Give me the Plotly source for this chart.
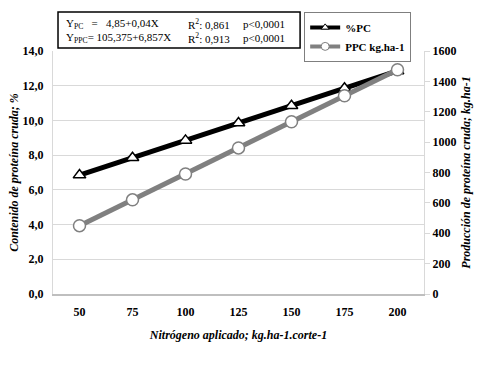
import plotly.graph_objects as go

nitrogen = [50, 75, 100, 125, 150, 175, 200]
pc_percent = [6.85, 7.85, 8.85, 9.85, 10.85, 11.85, 12.85]
ppc_kg = [450, 620, 790, 962, 1134, 1305, 1476]
x_ticks = [50, 75, 100, 125, 150, 175, 200]

FONT = "Liberation Serif, Times New Roman, serif"

fig = go.Figure()
fig.add_trace(go.Scatter(
    x=nitrogen, y=pc_percent, name="%PC", mode="lines+markers",
    line=dict(color="black", width=5),
    marker=dict(symbol="triangle-up", size=11, color="white",
                line=dict(color="black", width=1.5)),
    yaxis="y", showlegend=False))
fig.add_trace(go.Scatter(
    x=nitrogen, y=ppc_kg, name="PPC kg.ha-1", mode="lines+markers",
    line=dict(color="#808080", width=5),
    marker=dict(symbol="circle", size=12, color="white",
                line=dict(color="#808080", width=1.5)),
    yaxis="y2", showlegend=False))
# legend entries (smaller sample markers, as in the reference legend)
fig.add_trace(go.Scatter(
    x=[None], y=[None], name="<b>%PC</b>", mode="lines+markers",
    line=dict(color="black", width=4),
    marker=dict(symbol="triangle-up", size=7, color="white",
                line=dict(color="black", width=1))))
fig.add_trace(go.Scatter(
    x=[None], y=[None], name="<b>PPC kg.ha-1</b>", mode="lines+markers",
    line=dict(color="#808080", width=4),
    marker=dict(symbol="circle", size=8, color="white",
                line=dict(color="#808080", width=1))))

fig.update_layout(
    width=488, height=369,
    margin=dict(l=53, r=64, t=45, b=75),
    paper_bgcolor="white", plot_bgcolor="white",
    separators=",.",
    font=dict(family=FONT, size=12, color="black"),
    xaxis=dict(
        range=[37.5, 212.5], tickvals=x_ticks,
        ticktext=[f"<b>{v}</b>" for v in x_ticks],
        showgrid=False, zeroline=False, automargin=False,
        showline=True, linecolor="#bfbfbf", linewidth=1.5,
        ticks="", tickfont=dict(size=12), ticklabelstandoff=6,
        title=dict(text="<b><i>Nitrógeno aplicado; kg.ha-1.corte-1</i></b>",
                   font=dict(size=12), standoff=12),
    ),
    yaxis=dict(
        range=[0, 14], dtick=2, tickformat=".1f", automargin=False,
        showgrid=True, gridcolor="#d9d9d9", gridwidth=1, zeroline=False,
        showline=True, linecolor="#d9d9d9", linewidth=1,
        ticks="", tickfont=dict(size=12, family=FONT), ticklabelstandoff=6,
        title=dict(text="<b><i>Contenido de proteína cruda; %</i></b>",
                   font=dict(size=12), standoff=1),
    ),
    yaxis2=dict(
        range=[0, 1600], dtick=200, tickformat="d", automargin=False,
        overlaying="y", side="right",
        showgrid=False, zeroline=False,
        showline=True, linecolor="#d9d9d9", linewidth=1,
        ticks="outside", ticklen=5, tickcolor="#d9d9d9",
        tickfont=dict(size=12, family=FONT),
        title=dict(text="<b><i>Producción de proteína cruda; kg.ha-1</i></b>",
                   font=dict(size=12), standoff=6),
    ),
    legend=dict(
        x=0.677, y=1.161, xanchor="left", yanchor="top",
        bgcolor="white", bordercolor="#7f7f7f", borderwidth=1,
        font=dict(size=11, family=FONT), itemwidth=30,
        tracegroupgap=0,
    ),
    showlegend=True,
)

fig.update_yaxes(tickprefix="<b>", ticksuffix="</b>")

# Equation box
fig.add_shape(type="rect", xref="paper", yref="paper",
              x0=0.0135, x1=0.666, y0=1.012, y1=1.161,
              line=dict(color="black", width=1.5), fillcolor="white", layer="above")

rows = [
    ("Y<sub>PC</sub>   =   4,85+0,04X", "R<sup>2</sup>: 0,861", "p<0,0001", 17),
    ("Y<sub>PPC</sub>= 105,375+6,857X", "R<sup>2</sup>: 0,913", "p<0,0001", 32),
]
for c1, c2, c3, ypix in rows:
    yp = (294 - ypix) / 249
    for txt, xpix in ((c1, 64), (c2, 186), (c3, 241)):
        fig.add_annotation(text=txt, xref="paper", yref="paper",
                           x=(xpix - 53) / 371, y=yp, xanchor="left", yanchor="middle",
                           showarrow=False, font=dict(size=11, family=FONT))

fig.write_html("out.html", config={"displayModeBar": False},
               post_script="document.body.style.margin='0px';document.body.style.overflow='hidden';")
